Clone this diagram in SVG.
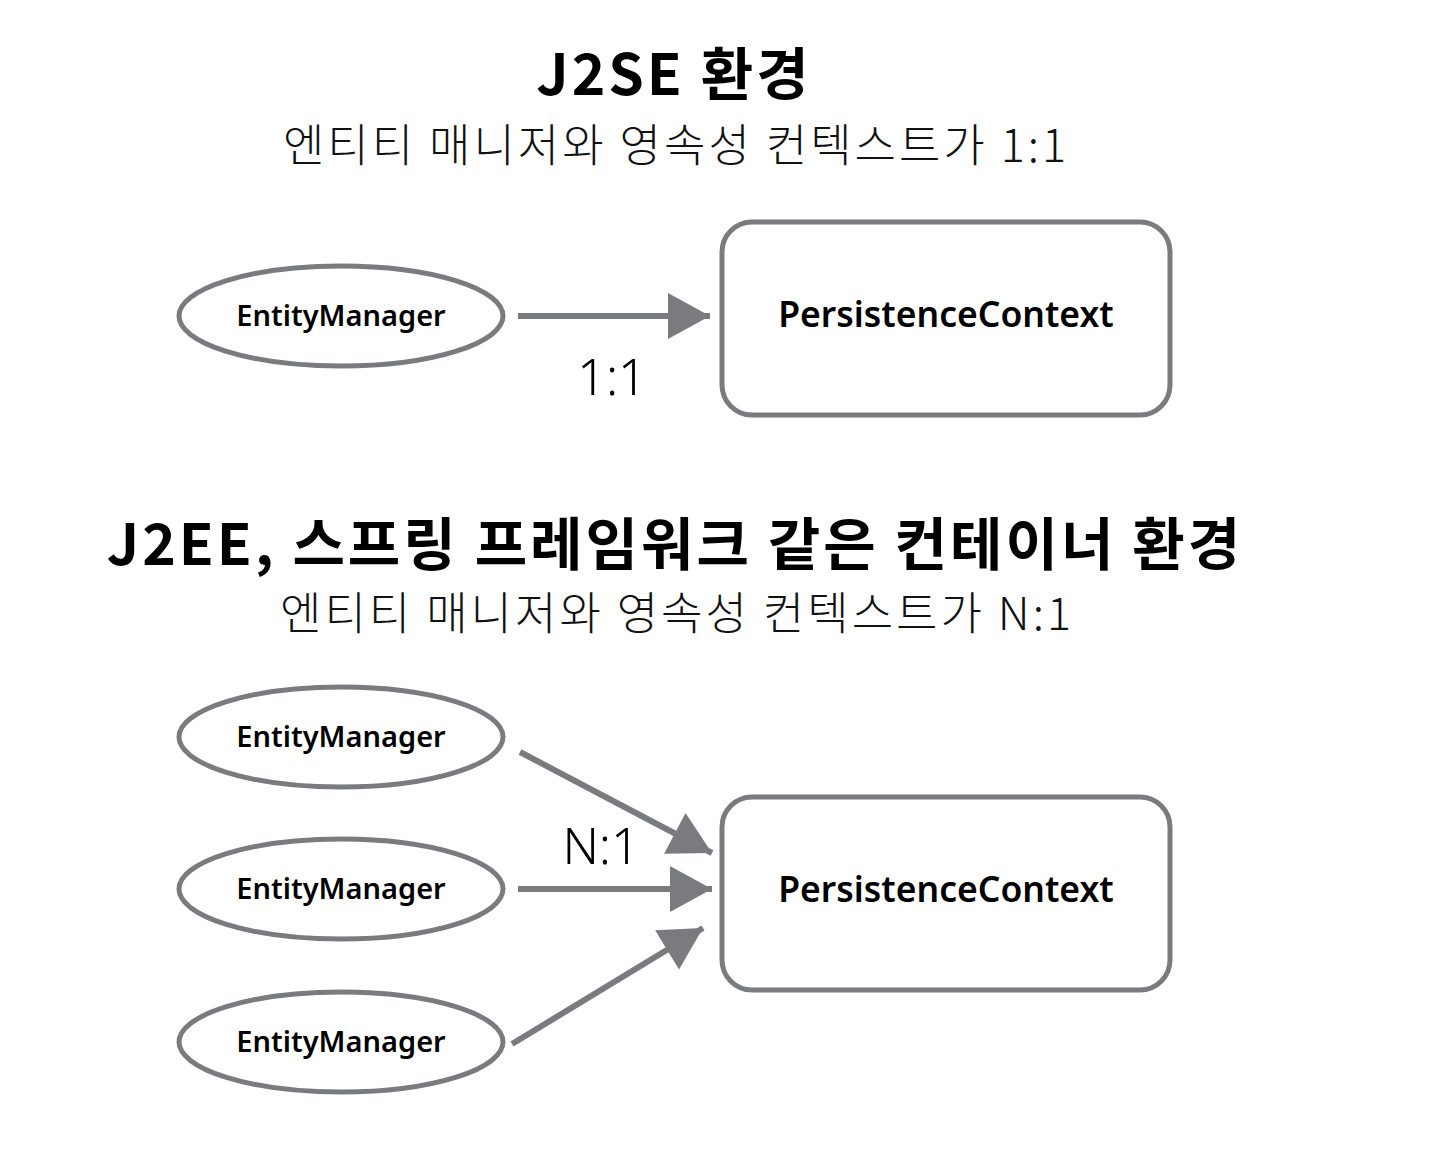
<svg xmlns="http://www.w3.org/2000/svg" width="1440" height="1157" viewBox="0 0 1440 1157">
<defs>
<style>
.ttl{font-family:"Noto Sans CJK KR","Noto Sans",sans-serif;font-weight:700;font-size:57px;letter-spacing:3px;fill:#000;text-anchor:middle}
.sub{font-family:"Noto Sans CJK KR","Noto Sans",sans-serif;font-weight:300;font-size:45px;letter-spacing:3px;fill:#111;text-anchor:middle}
.em{fill:#fff;stroke:#7a7b7e;stroke-width:5}
.pc{fill:#fff;stroke:#7a7b7e;stroke-width:5}
.lbl{font-family:"Noto Sans","Noto Sans CJK KR",sans-serif;font-weight:600;font-size:29px;fill:#000;text-anchor:middle}
.pcl{font-family:"Noto Sans","Noto Sans CJK KR",sans-serif;font-weight:600;font-size:35.5px;fill:#000;text-anchor:middle}
.ratio{font-family:"Noto Sans","Noto Sans CJK KR",sans-serif;font-weight:300;font-size:50px;fill:#000;text-anchor:middle}
.con{stroke:#7a7b7e;stroke-width:6;fill:none;marker-end:url(#ah)}
</style>
<marker id="ah" markerUnits="userSpaceOnUse" markerWidth="46" markerHeight="50" refX="44" refY="25" orient="auto">
<path d="M2,2 L44,25 L2,48 Z" fill="#7a7b7e"/>
</marker>
</defs>
<rect width="1440" height="1157" fill="#fff"/>
<text class="ttl" x="674" y="95">J2SE 환경</text>
<text class="sub" x="676" y="162">엔티티 매니저와 영속성 컨텍스트가 1:1</text>
<text class="ttl" x="675" y="565">J2EE, 스프링 프레임워크 같은 컨테이너 환경</text>
<text class="sub" x="677" y="630">엔티티 매니저와 영속성 컨텍스트가 N:1</text>
<g id="connectors">
<line class="con" x1="518" y1="316" x2="710" y2="316"/>
<line class="con" x1="520" y1="752" x2="712" y2="853"/>
<line class="con" x1="518" y1="889" x2="712" y2="889"/>
<line class="con" x1="512" y1="1044" x2="703" y2="928"/>
</g>
<text class="ratio" x="612" y="395">1:1</text>
<text class="ratio" x="601" y="864">N:1</text>
<g id="em1"><ellipse class="em" cx="341" cy="316" rx="162" ry="50"/><text class="lbl" x="341" y="326">EntityManager</text></g>
<g id="pc1"><rect class="pc" x="722" y="222" width="448" height="193" rx="30"/><text class="pcl" x="946" y="327">PersistenceContext</text></g>
<g id="em2"><ellipse class="em" cx="341" cy="737" rx="162" ry="50"/><text class="lbl" x="341" y="747">EntityManager</text></g>
<g id="em3"><ellipse class="em" cx="341" cy="889" rx="162" ry="50"/><text class="lbl" x="341" y="899">EntityManager</text></g>
<g id="em4"><ellipse class="em" cx="341" cy="1042" rx="162" ry="50"/><text class="lbl" x="341" y="1052">EntityManager</text></g>
<g id="pc2"><rect class="pc" x="722" y="797" width="448" height="193" rx="30"/><text class="pcl" x="946" y="902">PersistenceContext</text></g>
</svg>
